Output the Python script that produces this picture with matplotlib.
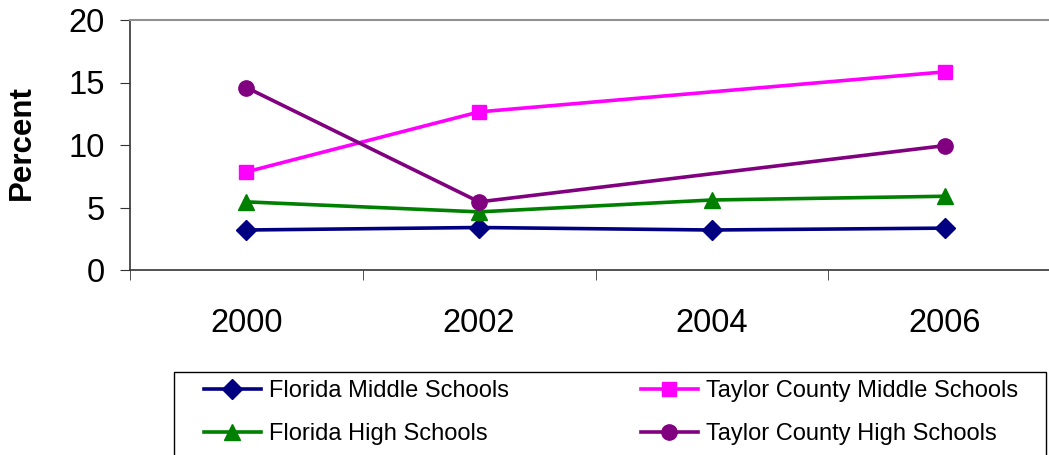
import numpy as np
import matplotlib.pyplot as plt
from matplotlib.patches import Rectangle

plt.rcParams['font.family'] = ['Liberation Sans', 'DejaVu Sans']

# Data (None = no value for that year)
years = ['2000', '2002', '2004', '2006']
florida_middle = [3.2, 3.4, 3.2, 3.35]
taylor_middle = [7.85, 12.65, None, 15.85]
florida_high = [5.45, 4.65, 5.6, 5.9]
taylor_high = [14.6, 5.45, None, 9.95]

series = [
    ('Florida Middle Schools', florida_middle, '#000080', 'D', 10),
    ('Taylor County Middle Schools', taylor_middle, '#FF00FF', 's', 10),
    ('Florida High Schools', florida_high, '#008000', '^', 12),
    ('Taylor County High Schools', taylor_high, '#800080', 'o', 11),
]

W, H = 1049, 455
fig = plt.figure(figsize=(W / 100, H / 100), dpi=100)
ax = fig.add_axes([130 / W, (H - 270) / H, 931 / W, 250 / H])

x = np.arange(len(years))
for name, vals, color, marker, ms in series:
    xs = [i for i, v in zip(x, vals) if v is not None]
    ys = [v for v in vals if v is not None]
    ax.plot(xs, ys, color=color, lw=2.6, marker=marker, markersize=ms,
            label=name, clip_on=False)

ax.set_xlim(-0.5, 3.5)
ax.set_ylim(0, 20)
ax.set_yticks([0, 5, 10, 15, 20])
ax.set_xticks(x)
ax.set_xticklabels(years)
ax.set_xticks(np.arange(-0.5, 4, 1), minor=True)
ax.tick_params(axis='x', which='major', length=0, pad=27, labelsize=23.5)
ax.tick_params(axis='x', which='minor', length=7, direction='out', color='#333333')
ax.tick_params(axis='y', length=7, pad=11, labelsize=23.5, color='#333333')

for s in ['left', 'bottom']:
    ax.spines[s].set_color('#333333')
    ax.spines[s].set_linewidth(1.2)
ax.spines['top'].set_color('#909090')
ax.spines['top'].set_linewidth(1.5)

fig.text(22 / W, 1 - 143 / H, 'Percent', rotation=90, ha='center',
         va='center', fontsize=22.5, fontweight='bold')

# legend frame (bottom edge runs off the picture)
fig.patches.append(Rectangle((174 / W, -0.05), (1046 - 174) / W, 0.05 + (H - 372) / H,
                             transform=fig.transFigure, fill=False,
                             edgecolor='black', lw=1.0))

handles, labels = ax.get_legend_handles_labels()
order = [0, 2, 1, 3]
leg = fig.legend([handles[i] for i in order], [labels[i] for i in order],
                 loc='upper left', bbox_to_anchor=(204 / W, 1 - 380 / H),
                 ncol=2, fontsize=17, frameon=False, borderpad=0,
                 labelspacing=0.88, handlelength=2.4, handletextpad=0.35,
                 columnspacing=5.6, borderaxespad=0)

fig.savefig('out.png', dpi=100)
